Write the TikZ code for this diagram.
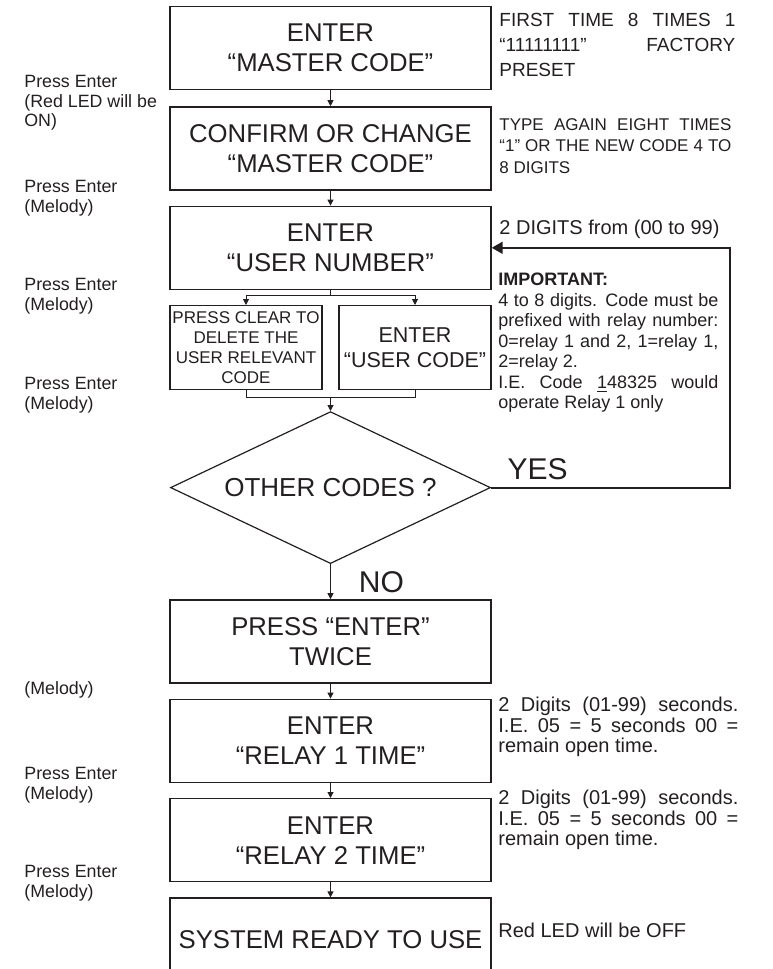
\documentclass[tikz,border=0pt]{standalone}
\usepackage{fontspec}
\setmainfont{Liberation Sans}
\usetikzlibrary{arrows.meta,positioning,shapes.geometric,calc}
\definecolor{ink}{HTML}{231F20}
\newcommand{\fs}[2]{\fontsize{#1}{#2}\selectfont}
\tikzset{
	stepbox/.style={draw=ink, line width=0.7pt, minimum width=160.5pt, minimum height=41.5pt,
		inner sep=0pt, align=center, text=ink, font=\fs{12.85pt}{15pt}},
	subbox/.style={stepbox, minimum width=76pt, minimum height=42pt},
	ask/.style={diamond, draw=ink, line width=0.6pt, aspect=2.1, minimum width=160pt,
		minimum height=76pt, inner sep=0pt, text=ink, font=\fs{13pt}{15pt}},
	link/.style={draw=ink, line width=0.5pt, -{Triangle[length=3pt,width=3pt]}},
	wire/.style={draw=ink, line width=0.5pt},
	back/.style={draw=ink, line width=1pt, -{Triangle[length=5.5pt,width=6pt]}},
	hint/.style={anchor=north west, inner sep=0pt, align=left, text=ink, font=\fs{8.9pt}{9.75pt}},
	note/.style={anchor=north west, inner sep=0pt, align=justify, text=ink},
	answer/.style={anchor=base west, inner sep=0pt, text=ink, font=\fs{15pt}{15pt}}
}

\begin{document}
\begin{tikzpicture}[x=0.5pt,y=0.5pt,node distance=7.5pt and 7.5pt]
  \useasboundingbox (0,0) rectangle (772,-969);
  % main column
  \node [stepbox] (b1) at (330.5,-48) {ENTER\\“MASTER CODE”};
  \node [stepbox, below=8pt of b1] (b2) {CONFIRM OR CHANGE\\“MASTER CODE”};
  \node [stepbox, below=of b2] (b3) {ENTER\\“USER NUMBER”};
  \node [subbox, below=of b3.south west, anchor=north west, font=\fs{8.5pt}{10pt}] (clear) {PRESS CLEAR TO\\DELETE THE\\USER RELEVANT\\CODE};
  \node [subbox, below=of b3.south east, anchor=north east, font=\fs{10.75pt}{12.5pt}] (ucode) {ENTER\\“USER CODE”};
  \node [ask, below=60.5pt of b3] (other) {OTHER CODES ?};
  \node [stepbox, below=17.5pt of other] (b4) {PRESS “ENTER”\\TWICE};
  \node [stepbox, below=of b4] (b5) {ENTER\\“RELAY 1 TIME”};
  \node [stepbox, below=of b5] (b6) {ENTER\\“RELAY 2 TIME”};
  \node [stepbox, below=of b6] (b7) {SYSTEM READY TO USE};

  \draw [link] (b1) -- (b2);
  \draw [link] (b2) -- (b3);
  \draw [wire] (b3.south) -- ++(0,-5) coordinate (fork);
  \draw [link] (fork) -| (clear);
  \draw [link] (fork) -| (ucode);
  \draw [wire] (clear.south) -- ++(0,-7) coordinate (joinL) -| (ucode.south);
  \coordinate (join) at (joinL -| other.north);
  \draw [link] (join) -- (other);
  \coordinate (turn) at ([xshift=119.5pt]other.east);
  \draw [back] (other.east) -- (turn) |- (b3.east);
  \draw [link] (other) -- (b4);
  \draw [link] (b4) -- (b5);
  \draw [link] (b5) -- (b6);
  \draw [link] (b6) -- (b7);
  \node [answer] (yes) at ([xshift=8pt,yshift=4pt]other.east) {YES};
  \node [answer] (no) at ([xshift=14pt,yshift=-14pt]other.south) {NO};

  % left hints
  \node [hint] (keyA) at (24,-75) {Press Enter\\(Red LED will be\\ON)};
  \node [hint] (keyB) at (24,-180) {Press Enter\\(Melody)};
  \node [hint] (keyC) at (24,-278) {Press Enter\\(Melody)};
  \node [hint] (keyD) at (24,-377) {Press Enter\\(Melody)};
  \node [hint] (keyE) at (24,-681) {(Melody)};
  \node [hint] (keyF) at (24,-767) {Press Enter\\(Melody)};
  \node [hint] (keyG) at (24,-865) {Press Enter\\(Melody)};

  % right notes
  \node [note, text width=118pt, font=\fs{9.5pt}{12.5pt}] (noteA) at (499,-13)
    {FIRST TIME 8 TIMES 1\linebreak “11111111” FACTORY\linebreak PRESET};
  \node [note, text width=116pt, font=\fs{8.5pt}{10.75pt}] (noteB) at (499,-118)
    {TYPE AGAIN EIGHT TIMES\linebreak “1” OR THE NEW CODE 4 TO\linebreak 8 DIGITS};
  \node [note, font=\fs{10pt}{12pt}] (noteC) at (499,-220) {2 DIGITS from (00 to 99)};
  \node [note, text width=110pt, font=\fs{9pt}{10.25pt}] (noteD) at (498,-273)
    {\textbf{IMPORTANT:}\\4 to 8 digits. Code must be\linebreak prefixed with relay number:\linebreak
     0=relay 1 and 2, 1=relay 1,\linebreak 2=relay 2.\\I.E. Code \underline{1}48325 would\linebreak operate Relay 1 only};
  \node [note, text width=120pt, font=\fs{10pt}{10.25pt}] (noteE) at (498,-697)
    {2 Digits (01-99) seconds.\linebreak I.E. 05 = 5 seconds 00 =\linebreak remain open time.};
  \node [note, text width=120pt, font=\fs{10pt}{10.25pt}] (noteF) at (498,-790)
    {2 Digits (01-99) seconds.\linebreak I.E. 05 = 5 seconds 00 =\linebreak remain open time.};
  \node [note, font=\fs{10pt}{12pt}] (noteG) at (498,-923) {Red LED will be OFF};
\end{tikzpicture}
\end{document}
